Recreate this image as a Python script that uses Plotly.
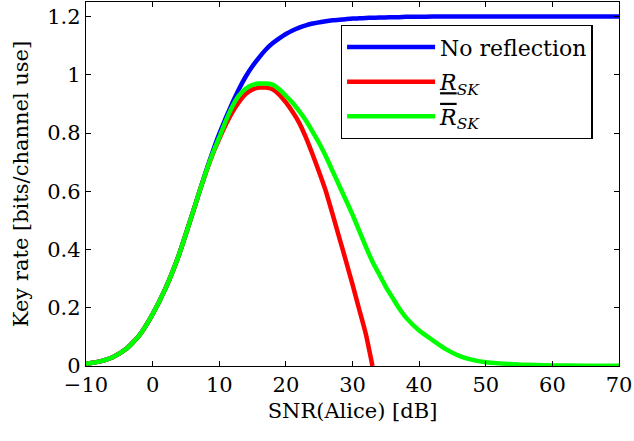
import plotly.graph_objects as go

# SNR (Alice) in dB
snr = [-10, -8, -6, -4, -2, 0, 2, 4, 6, 7, 8, 9, 10, 11, 12, 13, 14, 15, 16, 17,
       18, 19, 20, 21, 22, 23, 24, 25, 26, 27, 28, 29, 30, 31, 32, 33, 34, 35,
       36, 37, 38, 40, 42, 44, 46, 48, 50, 52, 55, 60, 65, 70]

no_reflection = [0.008, 0.015, 0.03, 0.058, 0.105, 0.178, 0.27, 0.385, 0.525, 0.597, 0.668, 0.735, 0.797, 0.853, 0.905, 0.953, 0.995, 1.03, 1.06, 1.087,
                 1.108, 1.125, 1.14, 1.152, 1.162, 1.17, 1.176, 1.18, 1.184, 1.187, 1.189, 1.191, 1.193, 1.194, 1.195, 1.196, 1.197, 1.197,
                 1.198, 1.198, 1.199, 1.199, 1.2, 1.2, 1.2, 1.2, 1.2, 1.2, 1.2, 1.2, 1.2, 1.2]

r_lower = [0.008, 0.015, 0.03, 0.058, 0.105, 0.178, 0.27, 0.385, 0.525, 0.597, 0.665, 0.727, 0.78, 0.83, 0.873, 0.908, 0.935, 0.95, 0.956, 0.956,
           0.95, 0.932, 0.905, 0.873, 0.835, 0.785, 0.727, 0.665, 0.6, 0.522, 0.442, 0.362, 0.28, 0.195, 0.11, 0.0, None, None,
           None, None, None, None, None, None, None, None, None, None, None, None, None, None]

r_upper = [0.008, 0.015, 0.03, 0.058, 0.105, 0.178, 0.27, 0.385, 0.525, 0.597, 0.666, 0.729, 0.785, 0.843, 0.893, 0.93, 0.953, 0.965, 0.97, 0.97,
           0.966, 0.95, 0.928, 0.904, 0.875, 0.843, 0.805, 0.765, 0.72, 0.67, 0.62, 0.57, 0.52, 0.465, 0.41, 0.358, 0.315, 0.272,
           0.235, 0.198, 0.167, 0.122, 0.089, 0.058, 0.035, 0.021, 0.013, 0.009, 0.005, 0.002, 0.001, 0.001]

names = ["No reflection",
         "<u><i>R</i></u><sub><i>SK</i></sub>",
         "<span style=\"text-decoration:overline\"><i>R</i></span><sub><i>SK</i></sub>"]
colors = ["#0000ff", "#ff0000", "#00ff00"]

FONT = "DejaVu Serif"

fig = go.Figure()
for i, (ys, nm, c) in enumerate(zip([no_reflection, r_lower, r_upper], names, colors)):
    fig.add_trace(go.Scatter(x=snr, y=ys, mode="lines", name=nm,
                             line=dict(color=c, width=4.5, shape="spline", smoothing=0.5),
                             legendgroup=str(i)))

axis_common = dict(showline=True, linecolor="black", linewidth=1.3, mirror="allticks",
                   ticks="inside", ticklen=5, tickcolor="black", tickwidth=1,
                   showgrid=False, zeroline=False,
                   tickfont=dict(family=FONT, size=21, color="black"))

fig.update_layout(
    width=634, height=441,
    margin=dict(l=86, r=15, t=2, b=75),
    plot_bgcolor="white", paper_bgcolor="white",
    font=dict(family=FONT, size=21, color="black"),
    xaxis=dict(range=[-10, 70], tickvals=[-10, 0, 10, 20, 30, 40, 50, 60, 70],
               ticktext=["\u221210", "0", "10", "20", "30", "40", "50", "60", "70"],
               title=dict(text="SNR(Alice) [dB]", font=dict(family=FONT, size=21), standoff=6),
               **axis_common),
    yaxis=dict(range=[0, 1.25], tickvals=[0, 0.2, 0.4, 0.6, 0.8, 1, 1.2],
               ticktext=["0", "0.2", "0.4", "0.6", "0.8", "1", "1.2"],
               title=dict(text="Key rate [bits/channel use]", font=dict(family=FONT, size=21), standoff=12),
               **axis_common),
    legend=dict(x=0.478, y=0.937, xanchor="left", yanchor="top",
                bordercolor="black", borderwidth=1.3, bgcolor="white",
                font=dict(family=FONT, size=22, color="black"),
                tracegroupgap=3, itemwidth=88),
    showlegend=True,
)

fig.write_html("out.html")
